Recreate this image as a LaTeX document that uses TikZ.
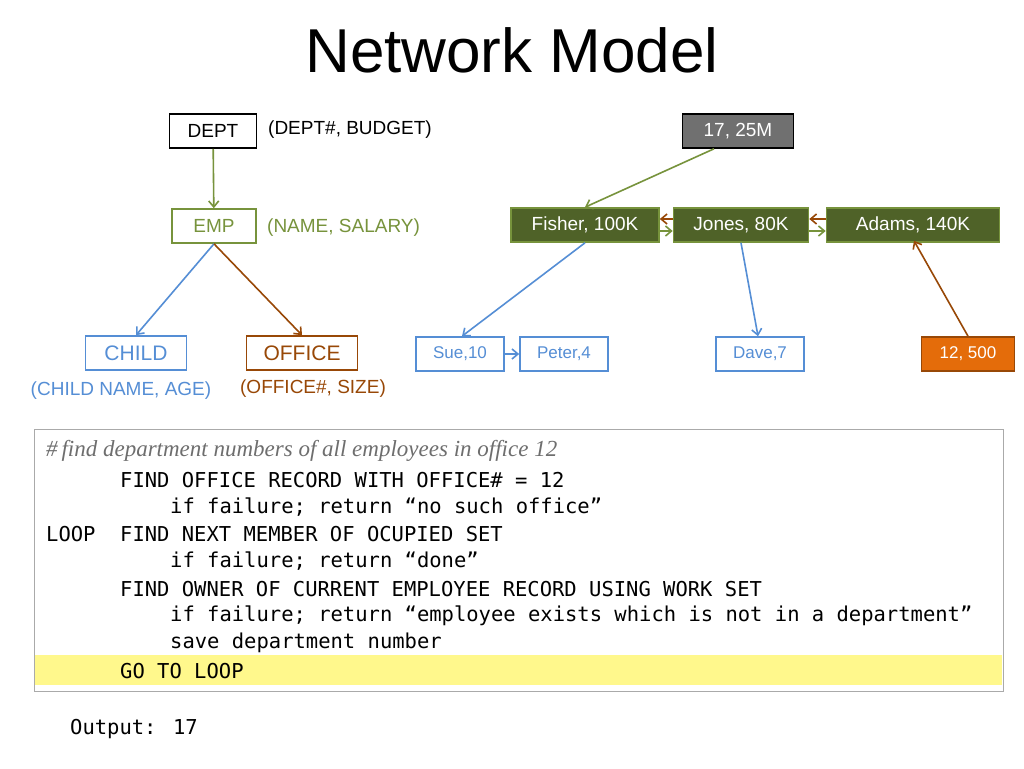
\documentclass[tikz,border=0pt]{standalone}
\usetikzlibrary{arrows.meta}
\usepackage{fontspec}
\setmainfont{Liberation Sans}
\newfontfamily\codefont{DejaVu Sans Mono}
\newfontfamily\cmtfont{Liberation Serif}
\definecolor{cgrn}{RGB}{119,147,60}
\definecolor{cgfill}{RGB}{79,98,40}
\definecolor{cblu}{RGB}{85,142,213}
\definecolor{cbrn}{RGB}{152,72,7}
\definecolor{corg}{RGB}{228,108,10}
\definecolor{cgray}{RGB}{112,112,112}
\definecolor{cyel}{RGB}{255,248,140}
\definecolor{cbox}{RGB}{170,170,170}
\definecolor{ccmt}{RGB}{110,110,110}
\begin{document}
\begin{tikzpicture}[x=1pt,y=-1pt,
  box/.style={draw,line width=1.6pt,minimum height=34pt,inner sep=0pt,font=\fontsize{19}{20}\selectfont},
  blk/.style={box,draw=black,text=black},
  grn/.style={box,draw=cgrn,text=cgrn},
  gfill/.style={box,draw=cgrn,fill=cgfill,text=white},
  blu/.style={box,draw=cblu,text=cblu},
  brn/.style={box,draw=cbrn,text=cbrn},
  lbl/.style={font=\fontsize{19}{20}\selectfont,inner sep=0pt},
  ar/.style={line width=1.6pt,-{Straight Barb[length=6pt,width=10pt]}},
  ag/.style={ar,draw=cgrn},
  ab/.style={ar,draw=cblu},
  ao/.style={ar,draw=cbrn},
  code/.style={anchor=west,inner sep=0pt,font=\codefont\fontsize{20.5}{22}\selectfont}
]
\useasboundingbox (0,0) rectangle (1024,768);
\fill[white] (0,0) rectangle (1024,768);
\node[font=\fontsize{62}{64}\selectfont] (title) at (512,50) {Network Model};

\node[blk,minimum width=87pt] (dept) at (213,131) {DEPT};
\node[lbl,anchor=west] (deptl) at (268,130) {(DEPT\#, BUDGET)};
\node[box,draw=black,fill=cgray,text=white,minimum width=111pt] (r17) at (738,131) {17, 25M};

\node[grn,minimum width=84pt] (emp) at (214,226) {EMP};
\node[lbl,anchor=west,text=cgrn] (empl) at (267,228) {(NAME, SALARY)};
\node[gfill,minimum width=148pt] (fisher) at (585,225) {Fisher, 100K};
\node[gfill,minimum width=135pt] (jones) at (741,225) {Jones, 80K};
\node[gfill,minimum width=173pt] (adams) at (913,225) {Adams, 140K};

\node[blu,minimum width=101pt,font=\fontsize{21}{22}\selectfont] (child) at (136,353) {CHILD};
\node[brn,minimum width=111pt,font=\fontsize{21}{22}\selectfont] (office) at (302,353) {OFFICE};
\node[lbl,text=cblu] (childl) at (121,391) {(CHILD NAME, AGE)};
\node[lbl,text=cbrn] (officel) at (313,389) {(OFFICE\#, SIZE)};

\node[blu,minimum width=88pt,font=\fontsize{17}{18}\selectfont] (sue) at (460,354) {Sue,10};
\node[blu,minimum width=88pt,font=\fontsize{17}{18}\selectfont] (peter) at (564,354) {Peter,4};
\node[blu,minimum width=88pt,font=\fontsize{17}{18}\selectfont] (dave) at (760,354) {Dave,7};
\node[box,draw=cbrn,fill=corg,text=white,minimum width=93pt,font=\fontsize{17}{18}\selectfont] (r12) at (968,354) {12, 500};

\draw[ag] (dept) -- (emp);
\draw[ab] (emp.south) -- (child.north);
\draw[ao] (emp.south) -- (office.north);
\draw[ag] ([xshift=-24pt]r17.south) -- (fisher.north);
\draw[ag] ([yshift=-6pt]fisher.east) -- ([yshift=-6pt]jones.west);
\draw[ao] ([yshift=6pt]jones.west) -- ([yshift=6pt]fisher.east);
\draw[ag] ([yshift=-6pt]jones.east) -- ([yshift=-6pt]adams.west);
\draw[ao] ([yshift=6pt]adams.west) -- ([yshift=6pt]jones.east);
\draw[ab] (fisher.south) -- ([xshift=2pt]sue.north);
\draw[ab] (sue) -- (peter);
\draw[ab] (jones.south) -- ([xshift=-2pt]dave.north);
\draw[ao] (r12.north) -- ([xshift=1pt,yshift=2pt]adams.south);

\draw[draw=cbox,line width=1pt] (34,429) rectangle (1003,691);
\fill[cyel] (35,655) rectangle (1002,685);
\node[anchor=west,inner sep=0pt,text=ccmt,font=\cmtfont\itshape\fontsize{23}{24}\selectfont] (cmt) at (46,451) {\#\,find department numbers of all employees in office 12};
\node[code] (c1) at (120,480) {FIND OFFICE RECORD WITH OFFICE\# = 12};
\node[code] (c2) at (170,507) {if failure; return “no such office”};
\node[code] (c3a) at (46,534) {LOOP};
\node[code] (c3) at (120,534) {FIND NEXT MEMBER OF OCUPIED SET};
\node[code] (c4) at (170,561) {if failure; return “done”};
\node[code] (c5) at (120,589) {FIND OWNER OF CURRENT EMPLOYEE RECORD USING WORK SET};
\node[code] (c6) at (170,616) {if failure; return “employee exists which is not in a department”};
\node[code] (c7) at (170,643) {save department number};
\node[code] (c8) at (120,671) {GO TO LOOP};
\node[code] (out) at (70,729) {Output: 17};
\end{tikzpicture}
\end{document}
